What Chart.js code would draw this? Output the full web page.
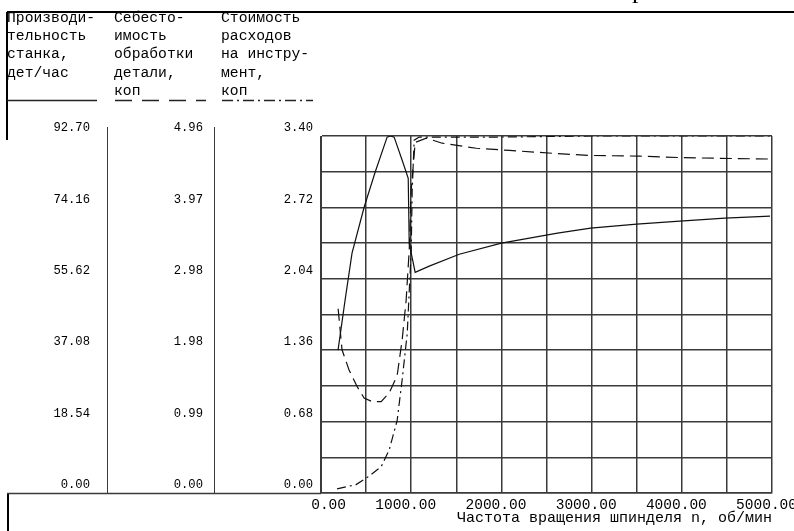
<!DOCTYPE html>
<html>
<head>
<meta charset="utf-8">
<script src="https://cdn.jsdelivr.net/npm/chart.js@4/dist/chart.umd.min.js"></script>
<style>
	html, body { margin: 0; padding: 0; background: #fff; }
</style>
</head>
<body>
<canvas id="myChart" width="794" height="531"></canvas>
<script>
// spindle speed n, об/мин
var prodN = [189, 267, 344, 478, 600, 733, 767, 811, 900, 967, 978, 1044, 1200, 1533, 2000, 2622, 2989, 3500, 3978, 4478, 4978];
var prodVal = [37.1, 50.1, 62.3, 74.2, 83.3, 92.4, 92.7, 92.4, 86.4, 81.7, 64.8, 57.3, 58.9, 62.0, 64.9, 67.5, 68.8, 69.8, 70.6, 71.4, 71.9];

var costN = [190, 233, 311, 400, 478, 567, 667, 756, 844, 900, 944, 978, 1000, 1044, 1167, 1344, 1722, 2089, 2567, 2978, 3533, 3978, 4422, 4978];
var costVal = [2.56, 1.99, 1.71, 1.48, 1.32, 1.27, 1.27, 1.39, 1.63, 2.13, 2.68, 3.37, 4.21, 4.87, 4.93, 4.86, 4.79, 4.76, 4.72, 4.69, 4.68, 4.66, 4.65, 4.64];

var toolN = [178, 389, 533, 667, 756, 844, 900, 956, 1000, 1011, 1033, 1089, 1978, 3000, 4000, 4978];
var toolVal = [0.04, 0.08, 0.16, 0.25, 0.41, 0.69, 1.08, 1.52, 2.31, 2.88, 3.36, 3.39, 3.39, 3.40, 3.40, 3.40];

// tick labels
var prodTicks = ["0.00", "18.54", "37.08", "55.62", "74.16", "92.70"];
var costTicks = ["0.00", "0.99", "1.98", "2.98", "3.97", "4.96"];
var toolTicks = ["0.00", "0.68", "1.36", "2.04", "2.72", "3.40"];
var xTicks = ["0.00", "1000.00", "2000.00", "3000.00", "4000.00", "5000.00"];

// column headers
var headers = [
	["Производи-", "тельность", "станка,", "дет/час"],
	["Себесто-", "имость", "обработки", "детали,", "коп"],
	["Стоимость", "расходов", "на инстру-", "мент,", "коп"]
];
var xTitle = "Частота вращения шпинделя n, об/мин";

var mono = "'Liberation Mono', 'DejaVu Sans Mono', monospace";
var gridColor = "#3a3a3a";

function toPoints(xs, ys) {
	var pts = [];
	for (var i = 0; i < xs.length; i++) {
		pts.push({x: xs[i], y: ys[i]});
	}
	return pts;
}

function yAxis(labels, maxVal, weight, pad, mainGrid) {
	return {
		type: "linear",
		position: "left",
		weight: weight,
		min: 0,
		max: maxVal,
		afterFit: function(scale) {
			scale.width = 107;
		},
		grid: mainGrid ? {color: gridColor, lineWidth: 1.5, drawTicks: false} : {drawOnChartArea: false, drawTicks: false},
		border: {display: true, color: gridColor, width: 1},
		ticks: {
			count: 11,
			autoSkip: false,
			padding: pad,
			labelOffset: -8,
			color: "#000",
			font: {family: mono, size: 12.2},
			callback: function(value, index) {
				return index % 2 === 0 ? labels[index / 2] : "";
			}
		}
	};
}

// frame, headers and line samples of the left table
var tableDecor = {
	id: "tableDecor",
	afterDraw: function(chart) {
		var ctx = chart.ctx;
		var area = chart.chartArea;
		ctx.save();

		// cut caption above the frame
		ctx.fillStyle = "#000";
		ctx.font = "26px 'Liberation Serif', serif";
		ctx.textBaseline = "alphabetic";
		ctx.fillText("р", 632, -2);

		// header text
		var cols = [chart.scales.yProd, chart.scales.yCost, chart.scales.yTool];
		ctx.font = "14.7px " + mono;
		for (var c = 0; c < headers.length; c++) {
			for (var r = 0; r < headers[c].length; r++) {
				ctx.fillText(headers[c][r], cols[c].left + 7, 22 + r * 18.2);
			}
		}

		// white strip and frame at left / top
		ctx.fillStyle = "#fff";
		ctx.fillRect(0, 12, 7, 519);
		ctx.strokeStyle = "#000";
		ctx.lineWidth = 2;
		ctx.beginPath();
		ctx.moveTo(7, 12);
		ctx.lineTo(794, 12);
		ctx.moveTo(7, 12);
		ctx.lineTo(7, 140);
		ctx.moveTo(8, area.bottom);
		ctx.lineTo(8, 531);
		ctx.stroke();

		// line samples under the headers
		var dashes = [[], [17, 10], [11, 4, 2, 4]];
		ctx.lineWidth = 1.3;
		ctx.strokeStyle = "#222";
		for (var k = 0; k < 3; k++) {
			ctx.setLineDash(dashes[k]);
			ctx.beginPath();
			ctx.moveTo(cols[k].left + (k === 0 ? 7 : 8), 100.5);
			ctx.lineTo(cols[k].right - (k === 0 ? 10 : 8), 100.5);
			ctx.stroke();
		}
		ctx.setLineDash([]);

		// table bottom and column lines above the plot top
		ctx.strokeStyle = gridColor;
		ctx.lineWidth = 1.5;
		ctx.beginPath();
		ctx.moveTo(7, area.bottom + 0.5);
		ctx.lineTo(area.left, area.bottom + 0.5);
		ctx.stroke();
		ctx.lineWidth = 1;
		ctx.beginPath();
		ctx.moveTo(Math.round(cols[0].right) + 0.5, 127);
		ctx.lineTo(Math.round(cols[0].right) + 0.5, area.top);
		ctx.moveTo(Math.round(cols[1].right) + 0.5, 127);
		ctx.lineTo(Math.round(cols[1].right) + 0.5, area.top);
		ctx.stroke();
		ctx.restore();
	}
};

new Chart("myChart", {
	type: "scatter",
	data: {
		datasets: [{
			label: "Производительность",
			data: toPoints(prodN, prodVal),
			yAxisID: "yProd",
			showLine: true,
			borderColor: "#111",
			borderWidth: 1.2,
			pointRadius: 0
		}, {
			label: "Себестоимость",
			data: toPoints(costN, costVal),
			yAxisID: "yCost",
			showLine: true,
			borderColor: "#111",
			borderWidth: 1.2,
			borderDash: [12, 6],
			pointRadius: 0
		}, {
			label: "Инструмент",
			data: toPoints(toolN, toolVal),
			yAxisID: "yTool",
			showLine: true,
			borderColor: "#111",
			borderWidth: 1.2,
			borderDash: [9, 4, 2, 4],
			pointRadius: 0
		}]
	},
	options: {
		responsive: false,
		animation: false,
		layout: {
			padding: {top: 136, right: 22, left: 0, bottom: 0}
		},
		plugins: {
			legend: {display: false},
			tooltip: {enabled: false}
		},
		scales: {
			x: {
				type: "linear",
				position: "bottom",
				min: 0,
				max: 5000,
				afterFit: function(scale) {
					scale.height = 38;
					scale.paddingLeft = 0;
					scale.paddingRight = 0;
				},
				grid: {color: gridColor, lineWidth: 1.5, drawTicks: false},
				border: {display: true, color: gridColor, width: 1.5},
				ticks: {
					stepSize: 500,
					autoSkip: false,
					maxRotation: 0,
					align: "end",
					labelOffset: 25,
					padding: 3,
					color: "#000",
					font: {family: mono, size: 14.5},
					callback: function(value) {
						return value % 1000 === 0 ? xTicks[value / 1000] : "";
					}
				},
				title: {
					display: true,
					text: xTitle,
					align: "end",
					color: "#000",
					font: {family: mono, size: 15},
					padding: {top: 0, bottom: 4}
				}
			},
			yProd: yAxis(prodTicks, 92.7, 3, 17, false),
			yCost: yAxis(costTicks, 4.96, 2, 11, false),
			yTool: yAxis(toolTicks, 3.4, 1, 8, true)
		}
	},
	plugins: [tableDecor]
});
</script>
</body>
</html>
